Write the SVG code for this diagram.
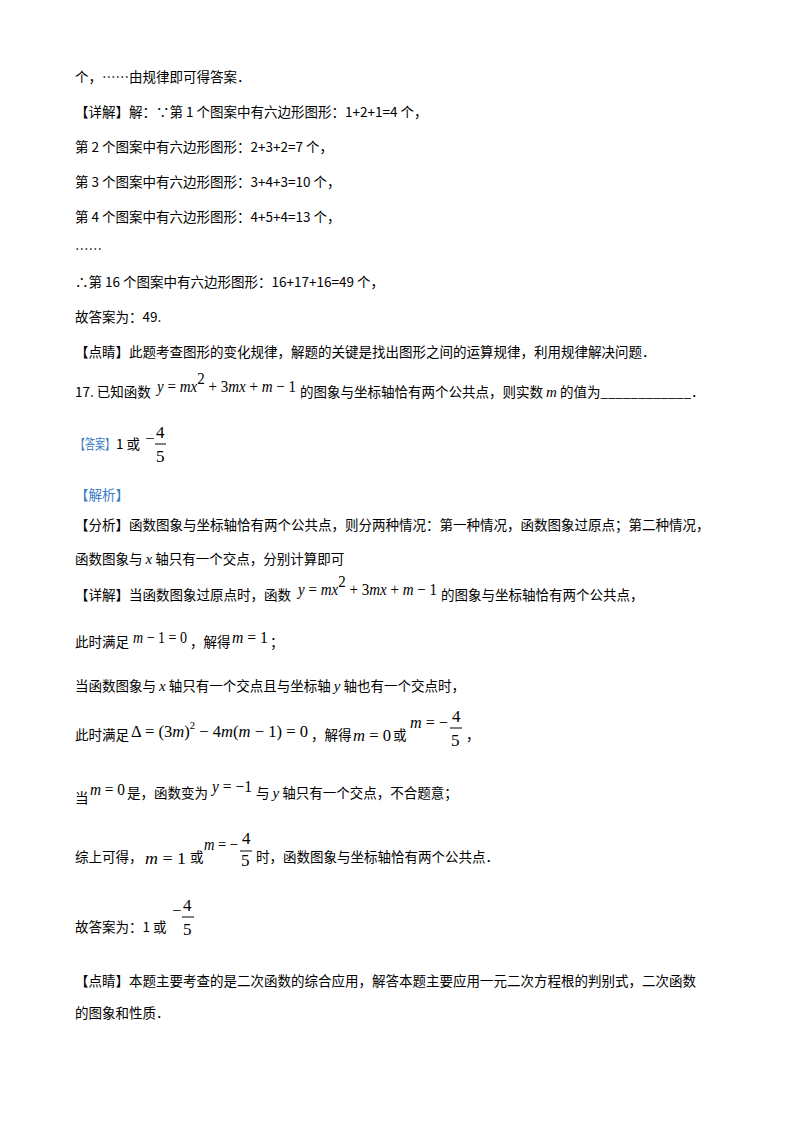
<svg xmlns="http://www.w3.org/2000/svg" width="800" height="1132" viewBox="0 0 800 1132">
<style>
.t{font-family:"Noto Sans CJK SC","Liberation Serif",serif;font-size:13.5px;fill:#000}
.m{font-family:"Liberation Serif",serif;font-size:17px;font-style:italic;fill:#000}
.n{font-family:"Liberation Serif",serif;font-size:17px;font-style:normal;fill:#000}
.b{fill:#3a7cc3}
</style>
<rect width="800" height="1132" fill="#fff"/>
<g class="t">
<text x="75" y="82">个，……由规律即可得答案．</text>
<text x="75" y="117">【详解】解：∵第 1 个图案中有六边形图形：1+2+1=4 个，</text>
<text x="75" y="152">第 2 个图案中有六边形图形：2+3+2=7 个，</text>
<text x="75" y="187">第 3 个图案中有六边形图形：3+4+3=10 个，</text>
<text x="75" y="222">第 4 个图案中有六边形图形：4+5+4=13 个，</text>
<text x="75" y="254">……</text>
<text x="75" y="287">∴第 16 个图案中有六边形图形：16+17+16=49 个，</text>
<text x="75" y="322">故答案为：49.</text>
<text x="75" y="357">【点睛】此题考查图形的变化规律，解题的关键是找出图形之间的运算规律，利用规律解决问题．</text>
<text x="75" y="397">17. 已知函数</text>
<text x="300" y="397">的图象与坐标轴恰有两个公共点，则实数 <tspan font-family="Liberation Serif" font-style="italic" font-size="15">m</tspan> 的值为____________．</text>
<text x="75" y="449" class="b" textLength="40" lengthAdjust="spacingAndGlyphs">【答案】</text>
<text x="116" y="449">1 或</text>
<text x="75" y="500" class="b">【解析】</text>
<text x="75" y="530">【分析】函数图象与坐标轴恰有两个公共点，则分两种情况：第一种情况，函数图象过原点；第二种情况，</text>
<text x="75" y="564">函数图象与 <tspan font-family="Liberation Serif" font-style="italic" font-size="15">x</tspan> 轴只有一个交点，分别计算即可</text>
<text x="75" y="600">【详解】当函数图象过原点时，函数</text>
<text x="441" y="600">的图象与坐标轴恰有两个公共点，</text>
<text x="75" y="647">此时满足</text>
<text x="190" y="647">，解得</text>
<text x="270" y="647">；</text>
<text x="75" y="691">当函数图象与 <tspan font-family="Liberation Serif" font-style="italic" font-size="15">x</tspan> 轴只有一个交点且与坐标轴 <tspan font-family="Liberation Serif" font-style="italic" font-size="15">y</tspan> 轴也有一个交点时，</text>
<text x="75" y="740">此时满足</text>
<text x="311" y="740">，解得</text>
<text x="393" y="740">或</text>
<text x="466" y="740">，</text>
<text x="75" y="803">当</text>
<text x="127" y="798">是，函数变为</text>
<text x="256" y="798">与 <tspan font-family="Liberation Serif" font-style="italic" font-size="15">y</tspan> 轴只有一个交点，不合题意；</text>
<text x="75" y="862">综上可得，</text>
<text x="190" y="862">或</text>
<text x="256" y="862">时，函数图象与坐标轴恰有两个公共点．</text>
<text x="75" y="932">故答案为：1 或</text>
<text x="75" y="986">【点睛】本题主要考查的是二次函数的综合应用，解答本题主要应用一元二次方程根的判别式，二次函数</text>
<text x="75" y="1018">的图象和性质．</text>
</g>
<g>
<text x="157" y="392" class="m" textLength="139" lengthAdjust="spacingAndGlyphs">y<tspan class="n"> = </tspan>mx<tspan class="n" font-size="11" dy="-8">2</tspan><tspan class="n" dy="8"> + 3</tspan>mx<tspan class="n"> + </tspan>m<tspan class="n"> − 1</tspan></text>
<text x="298" y="595" class="m" textLength="139" lengthAdjust="spacingAndGlyphs">y<tspan class="n"> = </tspan>mx<tspan class="n" font-size="11" dy="-8">2</tspan><tspan class="n" dy="8"> + 3</tspan>mx<tspan class="n"> + </tspan>m<tspan class="n"> − 1</tspan></text>
<text x="145" y="444" class="n">−</text>
<text x="156" y="438" class="n">4</text><line x1="155" y1="444" x2="166" y2="444" stroke="#000"/><text x="156" y="462" class="n">5</text>
<text x="133" y="643" class="m" textLength="54" lengthAdjust="spacingAndGlyphs">m<tspan class="n"> − 1 = 0</tspan></text>
<text x="232" y="643" class="m" textLength="36" lengthAdjust="spacingAndGlyphs">m<tspan class="n"> = 1</tspan></text>
<text x="131" y="737" class="n" textLength="177" lengthAdjust="spacingAndGlyphs">Δ = (3<tspan font-style="italic">m</tspan>)<tspan font-size="11" dy="-8">2</tspan><tspan dy="8"> − 4</tspan><tspan font-style="italic">m</tspan>(<tspan font-style="italic">m</tspan> − 1) = 0</text>
<text x="353" y="741" class="m" textLength="38" lengthAdjust="spacingAndGlyphs">m<tspan class="n"> = 0</tspan></text>
<text x="410" y="728" class="m" textLength="38" lengthAdjust="spacingAndGlyphs">m<tspan class="n"> = −</tspan></text>
<text x="452" y="722" class="n">4</text><line x1="450" y1="728" x2="462" y2="728" stroke="#000"/><text x="451" y="746" class="n">5</text>
<text x="90" y="795" class="m" textLength="35" lengthAdjust="spacingAndGlyphs">m<tspan class="n"> = 0</tspan></text>
<text x="212" y="792" class="m" textLength="40" lengthAdjust="spacingAndGlyphs">y<tspan class="n"> = −1</tspan></text>
<text x="145" y="864" class="m" textLength="41" lengthAdjust="spacingAndGlyphs">m<tspan class="n"> = 1</tspan></text>
<text x="204" y="850" class="m" textLength="34" lengthAdjust="spacingAndGlyphs">m<tspan class="n"> = −</tspan></text>
<text x="242" y="844" class="n">4</text><line x1="240" y1="851" x2="252" y2="851" stroke="#000"/><text x="241" y="866" class="n">5</text>
<text x="172" y="916" class="n">−</text>
<text x="183" y="911" class="n">4</text><line x1="182" y1="917" x2="194" y2="917" stroke="#000"/><text x="183" y="935" class="n">5</text>
</g>
</svg>
